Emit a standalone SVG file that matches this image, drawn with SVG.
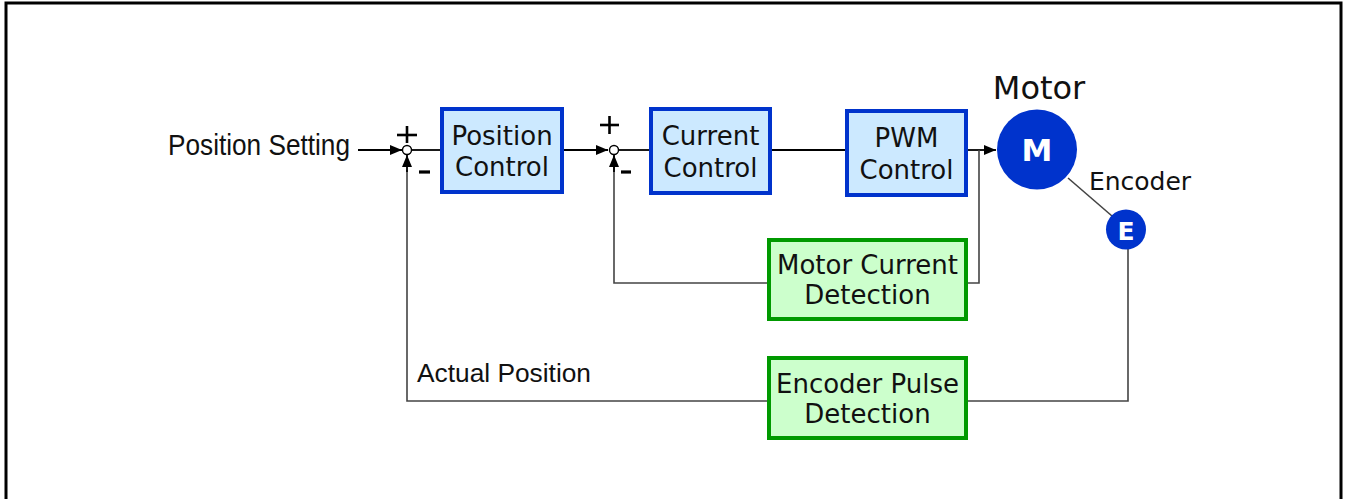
<svg xmlns="http://www.w3.org/2000/svg" width="1347" height="499" viewBox="0 0 1347 499">
  <defs>
    <marker id="arrow" viewBox="0 0 12 10" refX="12" refY="5" markerWidth="12" markerHeight="10" markerUnits="userSpaceOnUse" orient="auto">
      <path d="M0,0 L12,5 L0,10 z" fill="#000"/>
    </marker>
    <style>
      .blk { fill: #cce9ff; stroke: #0033cc; stroke-width: 4; }
      .det { fill: #ccffcc; stroke: #009900; stroke-width: 4; }
      .lbl { font-family: "DejaVu Sans", Verdana, sans-serif; font-size: 26px; fill: #111; text-anchor: middle; }
      .arial { font-family: "Liberation Sans", Arial, sans-serif; fill: #111; }
      .wire { fill: none; stroke: #000; stroke-width: 1.8; }
      .fb { fill: none; stroke: #444; stroke-width: 1.6; }
      .sign { stroke: #000; stroke-width: 2.6; }
      .minus { stroke: #000; stroke-width: 3.2; }
      .sum { fill: #fff; stroke: #000; stroke-width: 1.4; }
    </style>
  </defs>

  <rect x="6" y="3" width="1335" height="540" fill="#fff" stroke="#000" stroke-width="3"/>

  <!-- signal paths -->
  <g id="connectors">
    <line class="wire" x1="358" y1="150" x2="402" y2="150" marker-end="url(#arrow)"/>
    <line class="wire" x1="412" y1="150" x2="440" y2="150"/>
    <line class="wire" x1="564" y1="150" x2="608" y2="150" marker-end="url(#arrow)"/>
    <line class="wire" x1="618" y1="150" x2="649" y2="150"/>
    <line class="wire" x1="772" y1="150" x2="845" y2="150"/>
    <line class="wire" x1="968" y1="150" x2="996" y2="150" marker-end="url(#arrow)"/>
    <!-- current feedback loop -->
    <polyline class="fb" points="979,150 979,283 966,283"/>
    <polyline class="fb" points="769,283 614,283 614,156"/>
    <line class="wire" x1="614" y1="172" x2="614" y2="155" marker-end="url(#arrow)"/>
    <!-- position feedback loop -->
    <line class="fb" x1="1068" y1="178" x2="1112" y2="216"/>
    <polyline class="fb" points="1128,249 1128,401 966,401"/>
    <polyline class="fb" points="769,401 407,401 407,170"/>
    <line class="wire" x1="407" y1="172" x2="407" y2="155" marker-end="url(#arrow)"/>
  </g>

  <g id="input-label">
    <text class="arial" x="168" y="155" font-size="29" textLength="182" lengthAdjust="spacingAndGlyphs">Position Setting</text>
  </g>

  <g id="sum-position">
    <circle class="sum" cx="407" cy="150" r="4.5"/>
    <line class="sign" x1="397" y1="135" x2="417" y2="135"/>
    <line class="sign" x1="407" y1="126" x2="407" y2="143"/>
    <line class="minus" x1="419" y1="172" x2="430" y2="172"/>
  </g>

  <g id="position-control">
    <rect class="blk" x="442" y="109" width="120" height="83"/>
    <text class="lbl" x="502" y="145">Position</text>
    <text class="lbl" x="502" y="176">Control</text>
  </g>

  <g id="sum-current">
    <circle class="sum" cx="614" cy="150" r="4.5"/>
    <line class="sign" x1="600" y1="125" x2="619" y2="125"/>
    <line class="sign" x1="609.5" y1="116" x2="609.5" y2="134"/>
    <line class="minus" x1="621" y1="172" x2="631" y2="172"/>
  </g>

  <g id="current-control">
    <rect class="blk" x="651" y="109" width="119" height="84"/>
    <text class="lbl" x="710.5" y="145">Current</text>
    <text class="lbl" x="710.5" y="177">Control</text>
  </g>

  <g id="pwm-control">
    <rect class="blk" x="847" y="111" width="119" height="84"/>
    <text class="lbl" x="906.5" y="147">PWM</text>
    <text class="lbl" x="906.5" y="179">Control</text>
  </g>

  <g id="motor">
    <circle cx="1037" cy="149.5" r="40" fill="#0033cc"/>
    <text x="1037" y="161" font-family="DejaVu Sans, Verdana, sans-serif" font-weight="bold" font-size="31" fill="#fff" text-anchor="middle">M</text>
    <text x="1039" y="99" font-family="DejaVu Sans, Verdana, sans-serif" font-size="32" fill="#111" text-anchor="middle">Motor</text>
  </g>

  <g id="encoder">
    <circle cx="1126" cy="229.5" r="20" fill="#0033cc"/>
    <text x="1126" y="239.5" font-family="DejaVu Sans, Verdana, sans-serif" font-weight="bold" font-size="25" fill="#fff" text-anchor="middle">E</text>
    <text x="1140" y="190" font-family="DejaVu Sans, Verdana, sans-serif" font-size="25" fill="#111" text-anchor="middle">Encoder</text>
  </g>

  <g id="motor-current-detection">
    <rect class="det" x="769" y="240" width="197" height="79"/>
    <text class="lbl" x="867.5" y="274">Motor Current</text>
    <text class="lbl" x="867.5" y="304">Detection</text>
  </g>

  <g id="encoder-pulse-detection">
    <rect class="det" x="769" y="358" width="197" height="80"/>
    <text class="lbl" x="867.5" y="393">Encoder Pulse</text>
    <text class="lbl" x="867.5" y="423">Detection</text>
  </g>

  <g id="feedback-label">
    <text class="arial" x="417" y="382" font-size="26" textLength="174" lengthAdjust="spacingAndGlyphs">Actual Position</text>
  </g>
</svg>
